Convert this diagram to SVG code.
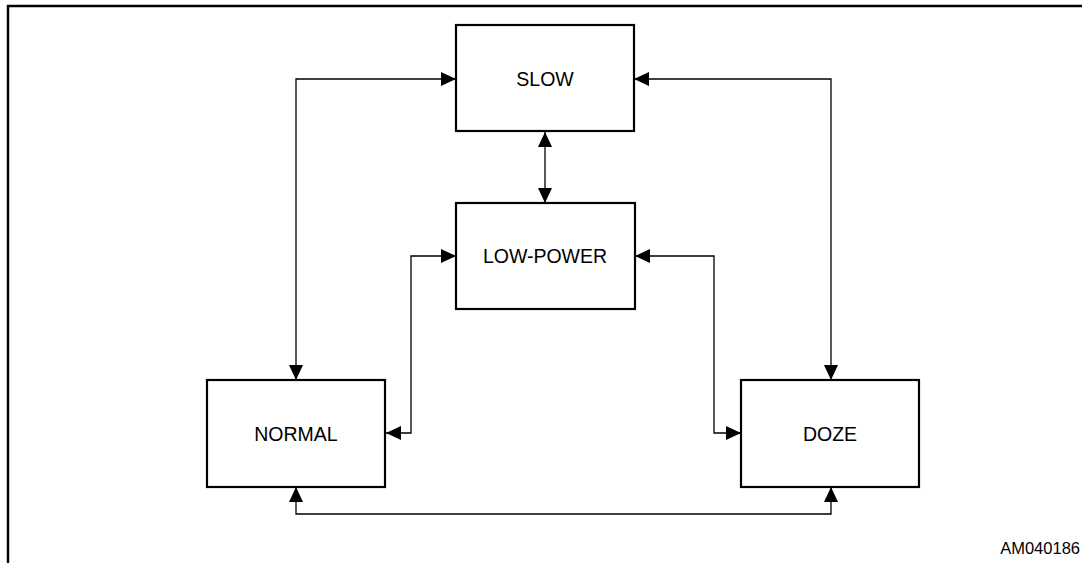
<svg xmlns="http://www.w3.org/2000/svg" width="1082" height="563" viewBox="0 0 1082 563">
<style>
.box{fill:#fff;stroke:#000;stroke-width:2.2}
.lbl{font-family:"Liberation Sans",Arial,sans-serif;font-size:19.5px;fill:#000;text-anchor:middle;dominant-baseline:central}
.conn{fill:none;stroke:#000;stroke-width:1.3}
.frame{fill:none;stroke:#000;stroke-width:2.4}
</style>
<defs>
<marker id="ah" viewBox="0 0 15 14" refX="15" refY="7" markerWidth="15" markerHeight="14" markerUnits="userSpaceOnUse" orient="auto-start-reverse">
<path d="M0,0 L15,7 L0,14 Z" fill="#000"/>
</marker>
</defs>
<path class="frame" d="M8,563 V6 H1082"/>
<g id="connectors">
<path class="conn" d="M456,79 H296 V380" marker-start="url(#ah)" marker-end="url(#ah)"/>
<path class="conn" d="M634,79 H831 V380" marker-start="url(#ah)" marker-end="url(#ah)"/>
<path class="conn" d="M545,132 V203" marker-start="url(#ah)" marker-end="url(#ah)"/>
<path class="conn" d="M456,256 H411 V433 H386" marker-start="url(#ah)" marker-end="url(#ah)"/>
<path class="conn" d="M635,256 H714 V433 H741" marker-start="url(#ah)" marker-end="url(#ah)"/>
<path class="conn" d="M296,487 V514 H831 V487" marker-start="url(#ah)" marker-end="url(#ah)"/>
</g>
<g id="slow">
<rect class="box" x="456" y="25" width="178" height="106"/>
<text class="lbl" x="545" y="79">SLOW</text>
</g>
<g id="low-power">
<rect class="box" x="456" y="203" width="179" height="106"/>
<text class="lbl" x="545" y="256">LOW-POWER</text>
</g>
<g id="normal">
<rect class="box" x="207" y="380" width="178" height="107"/>
<text class="lbl" x="296" y="434">NORMAL</text>
</g>
<g id="doze">
<rect class="box" x="741" y="380" width="178" height="107"/>
<text class="lbl" x="830" y="434">DOZE</text>
</g>
<text x="1080" y="554" style="font-family:'Liberation Sans',Arial,sans-serif;font-size:16.5px;text-anchor:end">AM040186</text>
</svg>
